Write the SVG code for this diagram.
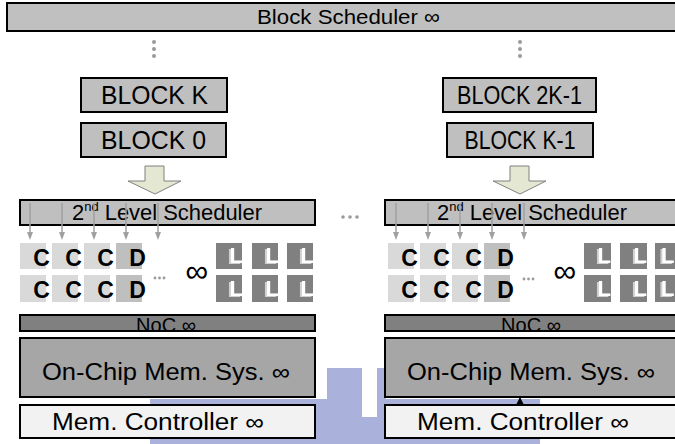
<svg xmlns="http://www.w3.org/2000/svg" width="675" height="444" viewBox="0 0 675 444">
<style>
text{font-family:"Liberation Sans",Arial,sans-serif;fill:#000}
.box{stroke:#000;stroke-width:2}
.bar{fill:#c0c0c0}
.blk{fill:#bfbfbf}
.sch{fill:#bfbfbf}
.noc{fill:#808080}
.mem{fill:#a6a6a6}
.ctl{fill:#f2f2f2}
.cc{fill:#d9d9d9}
.dc{fill:#bfbfbf}
.lc{fill:#808080}
.big{font-size:26px}
.mid{font-size:23px}
.cl{font-size:23px;font-weight:bold}
.lt{font-size:22px;font-weight:bold;fill:#fff;filter:url(#sh)}
.inf{font-size:32px;font-family:"DejaVu Sans",sans-serif;font-weight:200}
.dot{fill:#9a9a9a}
.ga{stroke:#a0a0a0;stroke-width:1.5;fill:none}
.fat{fill:#e4e7d1;stroke:#808080;stroke-width:1}
.wm{fill:#aab1da}
</style>
<defs>
<filter id="sh" x="-30%" y="-10%" width="160%" height="130%">
<feDropShadow dx="-2" dy="1" stdDeviation="0" flood-color="#d0d0d0"/>
</filter>
<marker id="gh" markerWidth="8" markerHeight="8" refX="4" refY="4" orient="auto" markerUnits="userSpaceOnUse">
<path d="M0,1 L8,4 L0,7 Z" fill="#a0a0a0"/>
</marker>
<marker id="bh" markerWidth="9" markerHeight="9" refX="8" refY="4.5" orient="auto" markerUnits="userSpaceOnUse">
<path d="M0,0 L9,4.5 L0,9 Z" fill="#000"/>
</marker>
</defs>
<rect width="675" height="444" fill="#fff"/>
<g id="watermark">
<rect class="wm" x="150" y="399" width="390" height="45"/>
<rect class="wm" x="327" y="368" width="59" height="76"/>
<rect x="362" y="368" width="15" height="49" fill="#fff"/>
</g>
<g id="block-scheduler">
<rect class="box bar" x="7" y="3" width="675" height="28"/>
<text x="257" y="24" font-size="21" textLength="183" lengthAdjust="spacingAndGlyphs">Block Scheduler ∞</text>
</g>
<g id="dots">
<circle class="dot" cx="154" cy="42" r="2"/><circle class="dot" cx="154" cy="49" r="2"/><circle class="dot" cx="154" cy="56" r="2"/>
<circle class="dot" cx="520" cy="42" r="2"/><circle class="dot" cx="520" cy="49" r="2"/><circle class="dot" cx="520" cy="56" r="2"/>
<circle class="dot" cx="343" cy="217" r="1.8"/><circle class="dot" cx="350" cy="217" r="1.8"/><circle class="dot" cx="357" cy="217" r="1.8"/>
</g>
<g id="block-k">
<rect class="box blk" x="81" y="78" width="146" height="34"/>
<text class="big" x="154.5" y="104" text-anchor="middle" textLength="107" lengthAdjust="spacingAndGlyphs">BLOCK K</text>
</g>
<g id="block-0">
<rect class="box blk" x="81" y="123" width="145" height="34"/>
<text class="big" x="153.5" y="149" text-anchor="middle" textLength="105" lengthAdjust="spacingAndGlyphs">BLOCK 0</text>
</g>
<g id="block-2k-1">
<rect class="box blk" x="443" y="78" width="153" height="34"/>
<text class="big" x="519.5" y="104" text-anchor="middle" textLength="125" lengthAdjust="spacingAndGlyphs">BLOCK 2K-1</text>
</g>
<g id="block-k-1">
<rect class="box blk" x="447" y="123" width="146" height="34"/>
<text class="big" x="520" y="149" text-anchor="middle" textLength="111" lengthAdjust="spacingAndGlyphs">BLOCK K-1</text>
</g>
<g id="arrow-left">
<path class="fat" d="M145,166 H164 V181 H181 L155,194 L128,181 H145 Z"/>
</g>
<g id="arrow-right">
<path class="fat" d="M510,166 H529 V181 H546 L520,194 L493,181 H510 Z"/>
</g>
<g id="scheduler2-left">
<rect class="box sch" x="20" y="200" width="295" height="25"/>
<text x="72" y="220" font-size="22" textLength="190" lengthAdjust="spacingAndGlyphs">2<tspan font-size="13" dy="-9">nd</tspan><tspan dy="9"> Level Scheduler</tspan></text>
</g>
<g id="scheduler2-right">
<rect class="box sch" x="385" y="200" width="300" height="25"/>
<text x="437" y="220" font-size="22" textLength="190" lengthAdjust="spacingAndGlyphs">2<tspan font-size="13" dy="-9">nd</tspan><tspan dy="9"> Level Scheduler</tspan></text>
</g>
<g id="cores-left">
<rect class="cc" x="20" y="243" width="26" height="26"/><rect class="cc" x="52" y="243" width="26" height="26"/><rect class="cc" x="84" y="243" width="26" height="26"/><rect class="dc" x="116" y="243" width="26" height="26"/>
<rect class="cc" x="20" y="275" width="26" height="27"/><rect class="cc" x="52" y="275" width="26" height="27"/><rect class="cc" x="84" y="275" width="26" height="27"/><rect class="dc" x="116" y="275" width="26" height="27"/>
<text class="cl" x="41.5" y="266" text-anchor="middle">C</text><text class="cl" x="73.5" y="266" text-anchor="middle">C</text><text class="cl" x="105.5" y="266" text-anchor="middle">C</text><text class="cl" x="137.5" y="266" text-anchor="middle">D</text>
<text class="cl" x="41.5" y="298" text-anchor="middle">C</text><text class="cl" x="73.5" y="298" text-anchor="middle">C</text><text class="cl" x="105.5" y="298" text-anchor="middle">C</text><text class="cl" x="137.5" y="298" text-anchor="middle">D</text>
<circle class="dot" cx="155" cy="278" r="1.4"/><circle class="dot" cx="159.5" cy="278" r="1.4"/><circle class="dot" cx="164" cy="278" r="1.4"/>
<text class="inf" x="197" y="282" text-anchor="middle">∞</text>
<rect class="lc" x="216" y="243" width="26" height="26"/><rect class="lc" x="252" y="243" width="26" height="26"/><rect class="lc" x="287" y="243" width="26" height="26"/>
<rect class="lc" x="216" y="275" width="26" height="27"/><rect class="lc" x="252" y="275" width="26" height="27"/><rect class="lc" x="287" y="275" width="26" height="27"/>
<text class="lt" x="229.5" y="263">L</text><text class="lt" x="265.5" y="263">L</text><text class="lt" x="300.5" y="263">L</text>
<text class="lt" x="229.5" y="296">L</text><text class="lt" x="265.5" y="296">L</text><text class="lt" x="300.5" y="296">L</text>
</g>
<g id="cores-right">
<rect class="cc" x="388" y="243" width="26" height="26"/><rect class="cc" x="420" y="243" width="26" height="26"/><rect class="cc" x="452" y="243" width="26" height="26"/><rect class="dc" x="484" y="243" width="26" height="26"/>
<rect class="cc" x="388" y="275" width="26" height="27"/><rect class="cc" x="420" y="275" width="26" height="27"/><rect class="cc" x="452" y="275" width="26" height="27"/><rect class="dc" x="484" y="275" width="26" height="27"/>
<text class="cl" x="409.5" y="266" text-anchor="middle">C</text><text class="cl" x="441.5" y="266" text-anchor="middle">C</text><text class="cl" x="473.5" y="266" text-anchor="middle">C</text><text class="cl" x="505.5" y="266" text-anchor="middle">D</text>
<text class="cl" x="409.5" y="298" text-anchor="middle">C</text><text class="cl" x="441.5" y="298" text-anchor="middle">C</text><text class="cl" x="473.5" y="298" text-anchor="middle">C</text><text class="cl" x="505.5" y="298" text-anchor="middle">D</text>
<circle class="dot" cx="524" cy="279" r="1.4"/><circle class="dot" cx="528.5" cy="279" r="1.4"/><circle class="dot" cx="533" cy="279" r="1.4"/>
<text class="inf" x="565" y="282" text-anchor="middle">∞</text>
<rect class="lc" x="584" y="243" width="27" height="26"/><rect class="lc" x="620" y="243" width="27" height="26"/><rect class="lc" x="655" y="243" width="27" height="26"/>
<rect class="lc" x="584" y="275" width="27" height="27"/><rect class="lc" x="620" y="275" width="27" height="27"/><rect class="lc" x="655" y="275" width="27" height="27"/>
<text class="lt" x="597.5" y="263">L</text><text class="lt" x="633.5" y="263">L</text><text class="lt" x="661" y="263">L</text>
<text class="lt" x="597.5" y="296">L</text><text class="lt" x="633.5" y="296">L</text><text class="lt" x="661" y="296">L</text>
</g>
<g id="noc-left">
<rect class="box noc" x="20" y="315" width="295" height="16"/>
<text x="166" y="332" font-size="20" text-anchor="middle">NoC ∞</text>
</g>
<g id="noc-right">
<rect class="box noc" x="385" y="315" width="300" height="16"/>
<text x="531" y="332" font-size="20" text-anchor="middle">NoC ∞</text>
</g>
<g id="onchip-left">
<rect class="box mem" x="20" y="338" width="295" height="59"/>
<text class="mid" x="166" y="380" text-anchor="middle" textLength="248" lengthAdjust="spacingAndGlyphs">On-Chip Mem. Sys. ∞</text>
</g>
<g id="onchip-right">
<rect class="box mem" x="385" y="338" width="300" height="59"/>
<text class="mid" x="531" y="380" text-anchor="middle" textLength="248" lengthAdjust="spacingAndGlyphs">On-Chip Mem. Sys. ∞</text>
</g>
<g id="memctl-left">
<rect class="box ctl" x="20" y="405" width="295" height="33"/>
<text class="mid" x="158" y="430" text-anchor="middle" textLength="212" lengthAdjust="spacingAndGlyphs">Mem. Controller ∞</text>
</g>
<g id="memctl-right">
<rect class="box ctl" x="385" y="405" width="300" height="33"/>
<text class="mid" x="523" y="430" text-anchor="middle" textLength="212" lengthAdjust="spacingAndGlyphs">Mem. Controller ∞</text>
</g>
<g id="connectors">
<path class="ga" d="M30,203 V236" marker-end="url(#gh)"/>
<path class="ga" d="M62,203 V236" marker-end="url(#gh)"/>
<path class="ga" d="M94,203 V236" marker-end="url(#gh)"/>
<path class="ga" d="M126,203 V236" marker-end="url(#gh)"/>
<path class="ga" d="M158,203 V236" marker-end="url(#gh)"/>
<path class="ga" d="M396,203 V236" marker-end="url(#gh)"/>
<path class="ga" d="M428,203 V236" marker-end="url(#gh)"/>
<path class="ga" d="M460,203 V236" marker-end="url(#gh)"/>
<path class="ga" d="M492,203 V236" marker-end="url(#gh)"/>
<path class="ga" d="M524,203 V236" marker-end="url(#gh)"/>
<path d="M520,405 V398" stroke="#000" stroke-width="1" marker-end="url(#bh)"/>
</g>
</svg>
